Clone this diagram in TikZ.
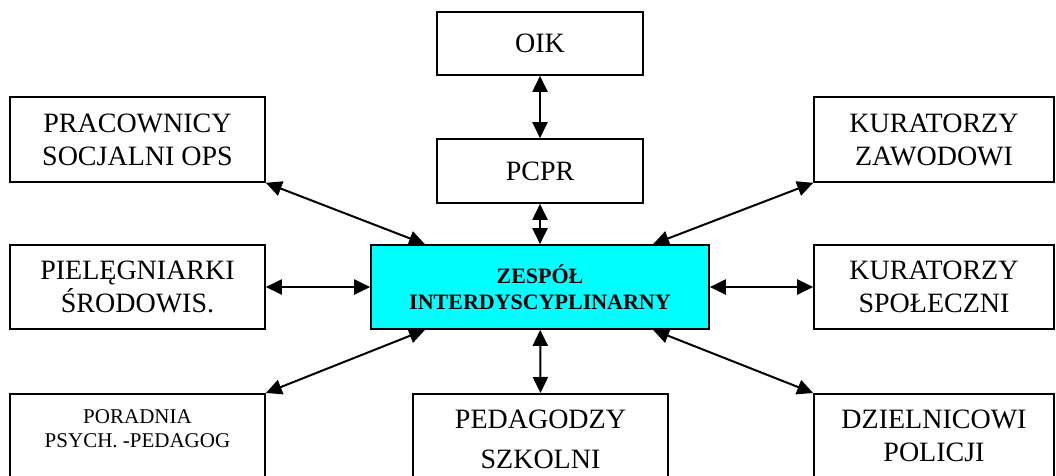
\documentclass[tikz,border=0pt]{standalone}
\usepackage{fontspec}
\setmainfont{Liberation Serif}
\usepackage{xcolor,tikz}
\usetikzlibrary{arrows.meta}
\definecolor{hubcyan}{RGB}{0,255,255}

\begin{document}
\begin{tikzpicture}[x=1pt,y=-1pt,
  box/.style={draw,line width=1.6pt,minimum width=255pt,minimum height=85pt,inner sep=0pt,align=center,font=\fontsize{28}{33}\selectfont},
  hub/.style={box,fill=hubcyan,minimum width=338pt,minimum height=84pt,font=\bfseries\fontsize{22}{26}\selectfont},
  foot/.style={box,anchor=north,minimum height=0pt,inner ysep=16pt,text depth=80pt},
  link/.style={line width=2pt,{Triangle[length=16pt,width=15pt]}-{Triangle[length=16pt,width=15pt]}}]
\useasboundingbox (0,0) rectangle (1056,475);
\node[hub] (zi) at (540,287) {ZESPÓŁ\\INTERDYSCYPLINARNY};
\node[box,minimum width=206pt,minimum height=63pt] (oik) at (540,43.5) {OIK};
\node[box,minimum width=206pt,minimum height=64pt] (pcpr) at (540,171) {PCPR};
\node[box] (prac) at (137.5,139.5) {PRACOWNICY\\SOCJALNI OPS};
\node[box,minimum width=240pt] (kzaw) at (934,139.5) {KURATORZY\\ZAWODOWI};
\node[box,minimum height=84pt] (piel) at (137.5,287) {PIELĘGNIARKI\\ŚRODOWIS.};
\node[box,minimum width=240pt,minimum height=84pt] (kspo) at (934,287) {KURATORZY\\SPOŁECZNI};
\node[foot,font=\fontsize{21}{24}\selectfont] (ppp) at (137.5,393) {PORADNIA\\PSYCH. -PEDAGOG};
\node[foot,font=\fontsize{28}{40}\selectfont] (ped) at (540.5,393) {PEDAGODZY\\SZKOLNI};
\node[foot,minimum width=240pt] (dzi) at (934,393) {DZIELNICOWI\\POLICJI};
\draw[link] (oik)--(pcpr);\draw[link] (pcpr)--(zi);
\draw[link] (prac.south east)--([xshift=-115pt]zi.north);\draw[link] (kzaw.south west)--([xshift=113pt]zi.north);
\draw[link] (piel)--(zi);\draw[link] (zi)--(kspo);
\draw[link] (ppp.north east)--([xshift=-115pt]zi.south);\draw[link] (zi)--(ped.north);\draw[link] (dzi.north west)--([xshift=113pt]zi.south);
\end{tikzpicture}
\end{document}
